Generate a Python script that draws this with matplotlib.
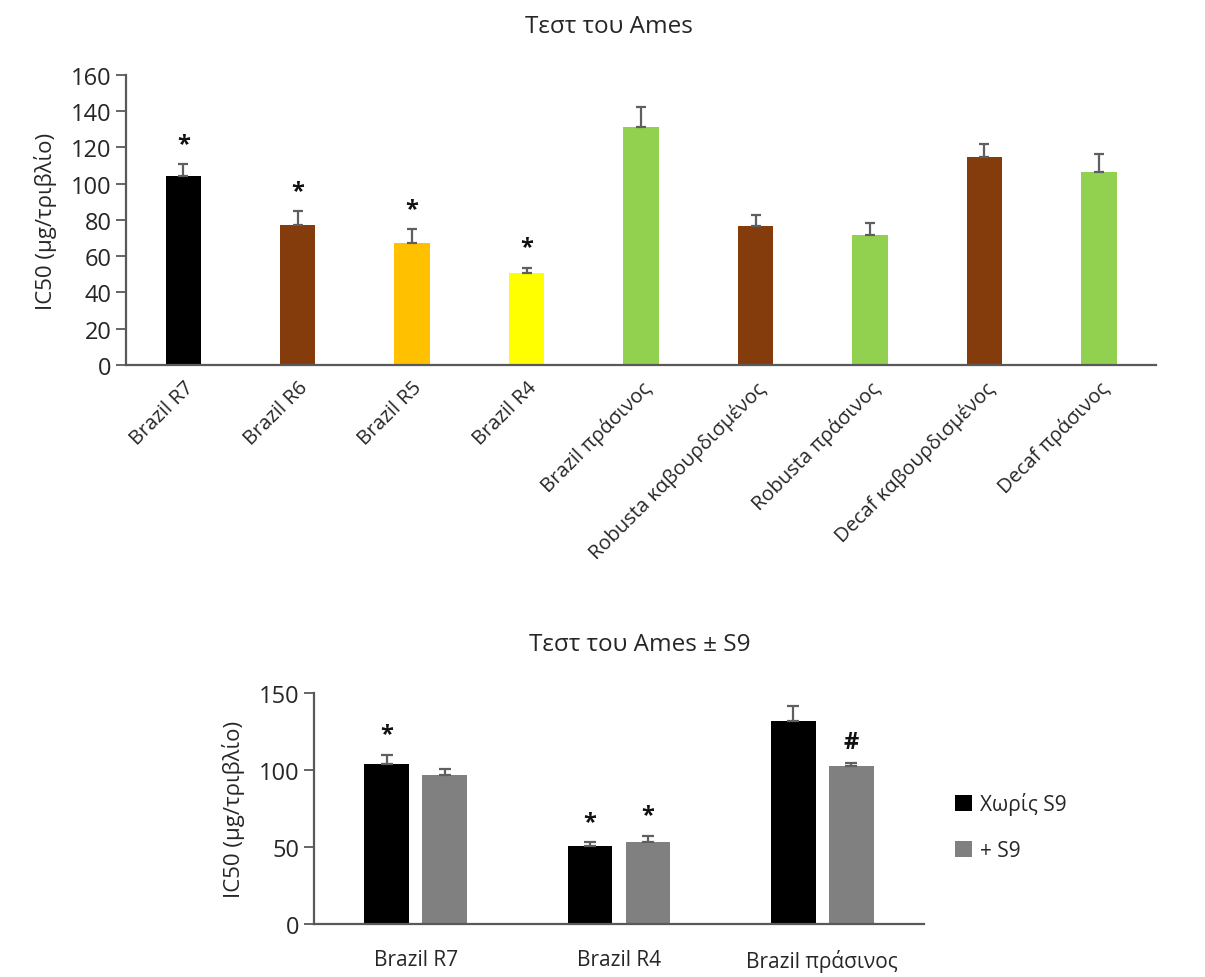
import matplotlib
matplotlib.use("Agg")
import matplotlib.pyplot as plt
import numpy as np

plt.rcParams['font.family'] = ['Open Sans', 'DejaVu Sans']

# top chart data
samples = ['Brazil R7', 'Brazil R6', 'Brazil R5', 'Brazil R4', 'Brazil πράσινος',
           'Robusta καβουρδισμένος', 'Robusta πράσινος', 'Decaf καβουρδισμένος', 'Decaf πράσινος']
ic50 = [104.3, 77.4, 67.3, 50.6, 131.3, 76.5, 71.9, 114.6, 106.7]
ic50_err = [6.5, 7.4, 7.6, 3.1, 10.9, 6.3, 6.2, 7.3, 9.6]
bar_colors = ['#000000', '#843C0C', '#FFC000', '#FFFF00', '#92D050',
              '#843C0C', '#92D050', '#843C0C', '#92D050']
signif = ['*', '*', '*', '*', '', '', '', '', '']

# bottom chart data
groups = ['Brazil R7', 'Brazil R4', 'Brazil πράσινος']
no_s9 = [103.6, 50.7, 131.5]
no_s9_err = [6.3, 2.4, 10.0]
with_s9 = [96.9, 53.3, 102.3]
with_s9_err = [3.9, 3.9, 2.4]
no_s9_marks = ['*', '*', '']
with_s9_marks = ['', '*', '#']

ylabel = 'IC50 (μg/τριβλίο)'
axis_col = '#595959'
text_col = '#262626'
err_col = '#5f5f5f'

fig = plt.figure(figsize=(12.05, 9.78), dpi=100)

# ---------- top chart ----------
ax1 = fig.add_axes([0.1046, 0.6258, 0.8548, 0.2965])
x = np.arange(len(samples))
ax1.bar(x, ic50, width=0.31, color=bar_colors, zorder=2)
ax1.errorbar(x, ic50, yerr=[np.zeros(len(x)), ic50_err], fmt='none',
             ecolor=err_col, elinewidth=1.6, capsize=3.5, capthick=1.6, zorder=3)
for xi, v, e, s in zip(x, ic50, ic50_err, signif):
    if s:
        ax1.annotate(s, (xi, v + e), xytext=(0, 6), textcoords='offset points',
                     ha='center', va='bottom', fontsize=17, fontweight='bold',
                     color='#111111')
ax1.set_xlim(-0.5, len(samples) - 0.5)
ax1.set_ylim(0, 160)
ax1.set_yticks(np.arange(0, 161, 20))
ax1.set_xticks(x)
ax1.set_xticklabels(samples, rotation=45, ha='right', rotation_mode='anchor',
                    fontsize=14.5, color=text_col)
ax1.tick_params(axis='x', length=0, pad=9)
ax1.tick_params(axis='y', labelsize=17, labelcolor=text_col, color=axis_col,
                length=7, width=1.3, direction='out')
ax1.set_ylabel(ylabel, fontsize=16, color=text_col, labelpad=10)
for sp in ['top', 'right']:
    ax1.spines[sp].set_visible(False)
for sp in ['left', 'bottom']:
    ax1.spines[sp].set_color(axis_col)
    ax1.spines[sp].set_linewidth(1.6)
fig.text(0.505, 0.972, 'Τεστ του Ames', ha='center', va='center', fontsize=17.5, color=text_col)

# ---------- bottom chart ----------
ax2 = fig.add_axes([0.2606, 0.0542, 0.5062, 0.2362])
g = np.arange(len(groups))
off = 0.143
w = 0.22
ax2.bar(g - off, no_s9, width=w, color='#000000', label='Χωρίς S9', zorder=2)
ax2.bar(g + off, with_s9, width=w, color='#808080', label='+ S9', zorder=2)
ax2.errorbar(g - off, no_s9, yerr=[np.zeros(len(g)), no_s9_err], fmt='none',
             ecolor=err_col, elinewidth=1.6, capsize=4.5, capthick=1.6, zorder=3)
ax2.errorbar(g + off, with_s9, yerr=[np.zeros(len(g)), with_s9_err], fmt='none',
             ecolor=err_col, elinewidth=1.6, capsize=4.5, capthick=1.6, zorder=3)
for xs, vals, errs, marks in [(g - off, no_s9, no_s9_err, no_s9_marks),
                              (g + off, with_s9, with_s9_err, with_s9_marks)]:
    for xi, v, e, s in zip(xs, vals, errs, marks):
        if s:
            ax2.annotate(s, (xi, v + e), xytext=(0, 6), textcoords='offset points',
                         ha='center', va='bottom', fontsize=17, fontweight='bold',
                         color='#111111')
ax2.set_xlim(-0.5, len(groups) - 0.5)
ax2.set_ylim(0, 150)
ax2.set_yticks([0, 50, 100, 150])
ax2.set_xticks(g)
ax2.set_xticklabels(groups, fontsize=15, color=text_col)
ax2.tick_params(axis='x', length=0, pad=18)
ax2.tick_params(axis='y', labelsize=17, labelcolor=text_col, color=axis_col,
                length=7, width=1.3, direction='out')
ax2.set_ylabel(ylabel, fontsize=16, color=text_col, labelpad=10)
for sp in ['top', 'right']:
    ax2.spines[sp].set_visible(False)
for sp in ['left', 'bottom']:
    ax2.spines[sp].set_color(axis_col)
    ax2.spines[sp].set_linewidth(1.6)
ax2.legend(loc='center left', bbox_to_anchor=(1.02, 0.42), frameon=False,
           fontsize=15, handlelength=0.8, handleheight=0.8, handletextpad=0.4,
           labelspacing=1.2, labelcolor=text_col)
fig.text(0.531, 0.341, 'Τεστ του Ames ± S9', ha='center', va='center', fontsize=17.5, color=text_col)

fig.savefig('out.png', dpi=100)
